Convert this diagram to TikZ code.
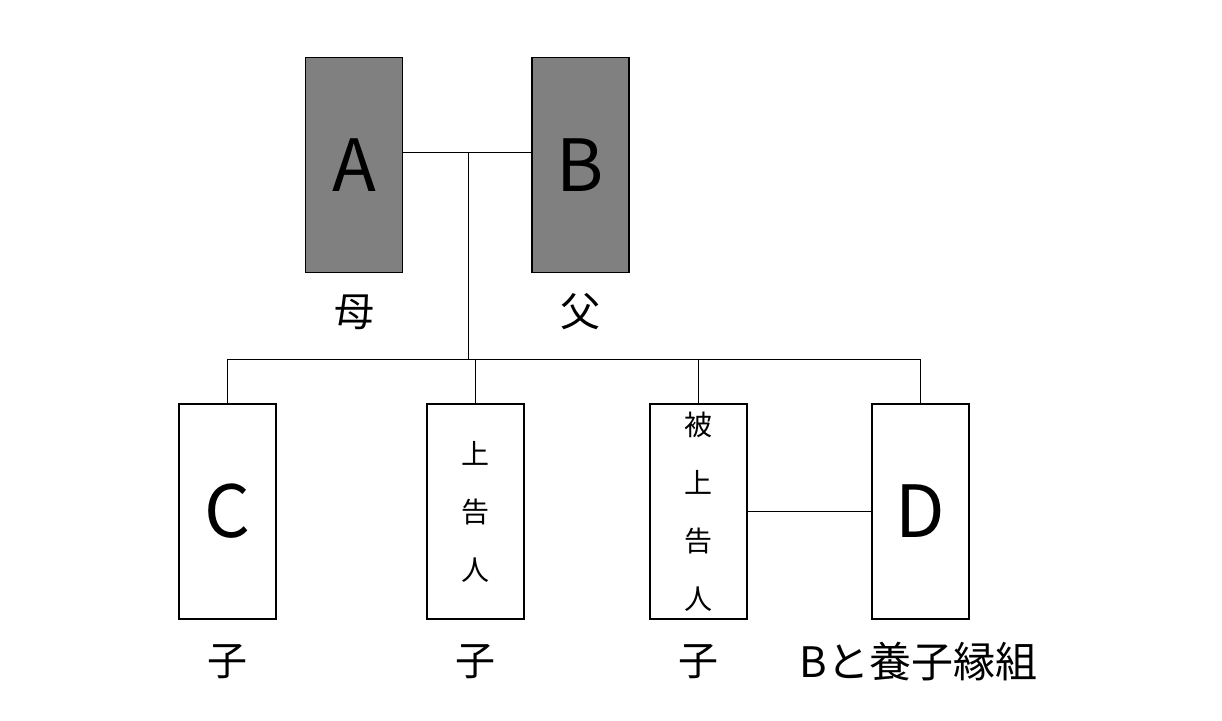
\documentclass[tikz,border=0pt]{standalone}
\usepackage{fontspec}
\setmainfont{Noto Sans CJK JP}
\usetikzlibrary{positioning}

\begin{document}
\begin{tikzpicture}[x=1pt, y=-1pt, node distance=223pt]
    % Stili
    \tikzstyle{block} = [draw, line width=1.1pt, rectangle, minimum height=215pt, minimum width=97pt, inner sep=0pt]
    \tikzstyle{parent} = [block, fill=gray, font=\fontsize{72}{72}\selectfont]
    \tikzstyle{child} = [block, fill=white, font=\fontsize{72}{72}\selectfont]
    \tikzstyle{vtext} = [block, align=center, font=\fontsize{28}{58}\selectfont]
    \tikzstyle{role} = [font=\fontsize{40}{40}\selectfont]
    \tikzstyle{link} = [line width=1pt]

    \useasboundingbox (0,0) rectangle (1222,720);

    % Nodi
    \node [parent] (A) at (354,165) {A};
    \node [parent, right of=A, node distance=226.5pt] (B) {B};
    \node [child] (C) at (227.5,511.5) {C};
    \node [vtext, right of=C, node distance=248pt] (app) {上\\告\\人};
    \node [vtext, right of=app] (res) {被\\上\\告\\人};
    \node [child, right of=res, node distance=222pt] (D) {D};

    \node [role, below of=A, node distance=147pt] (mA) {母};
    \node [role, below of=B, node distance=147pt] (mB) {父};
    \node [role, below of=C, node distance=150.5pt] (kC) {子};
    \node [role, below of=app, node distance=150.5pt] (kapp) {子};
    \node [role, below of=res, node distance=150.5pt] (kres) {子};
    \node [role, below of=D, node distance=150.5pt, xshift=-2pt, font=\fontsize{42}{42}\selectfont] (kD) {Bと養子縁組};

    % Collegamenti
    \coordinate (j) at (468,152);
    \coordinate (bar) at (468,359);
    \draw [link] (A.east |- j) -- (B.west |- j);
    \draw [link] (j) -- (bar);
    \draw [link] (C.north) -- (C.north |- bar) -- (D.north |- bar) -- (D.north);
    \draw [link] (app.north) -- (app.north |- bar);
    \draw [link] (res.north) -- (res.north |- bar);
    \draw [link] (res.east) -- (D.west);

\end{tikzpicture}
\end{document}
